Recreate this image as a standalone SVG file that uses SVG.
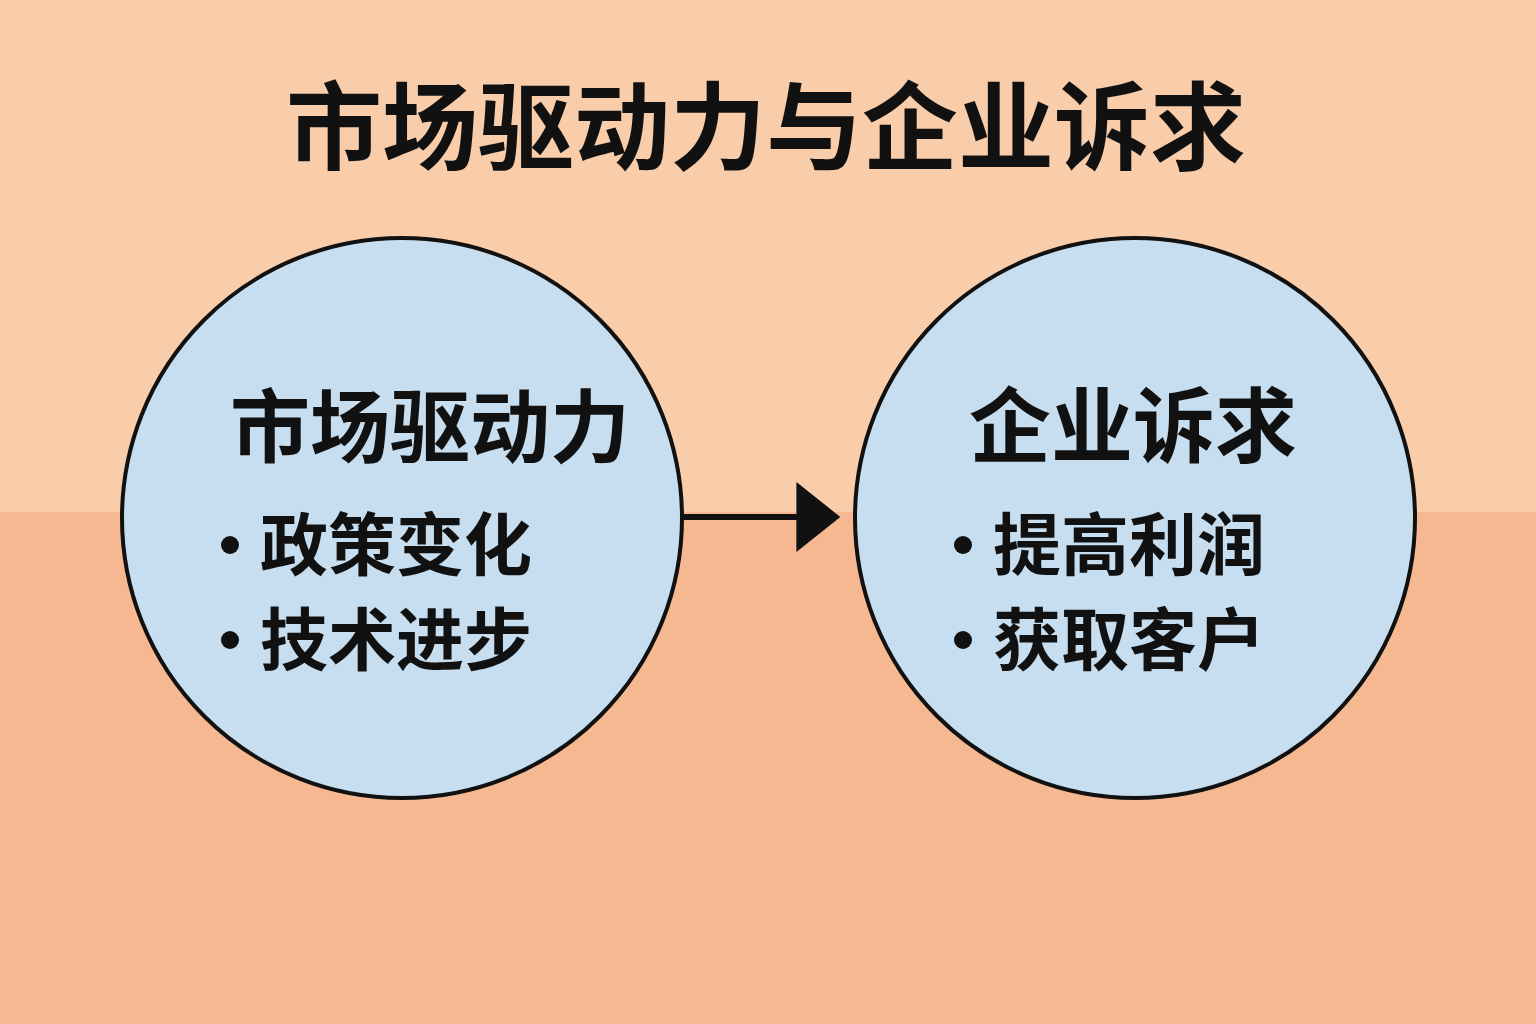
<svg xmlns="http://www.w3.org/2000/svg" width="1536" height="1024" viewBox="0 0 1536 1024">
<defs>
<style>
.t{font-family:"Noto Sans CJK SC","Noto Sans",sans-serif;font-weight:bold;fill:#111}
.c{fill:#C6DEEF;stroke:#111;stroke-width:4}
</style>
<marker id="ah" viewBox="0 0 10 10" refX="9" refY="5" markerWidth="44" markerHeight="70" markerUnits="userSpaceOnUse" orient="auto" preserveAspectRatio="none"><path d="M0,0L10,5L0,10z" fill="#111"/></marker>
</defs>
<rect width="1536" height="512" fill="#F9CDA9"/>
<rect y="512" width="1536" height="512" fill="#F5B890"/>
<text class="t" x="766" y="162" font-size="96" text-anchor="middle">市场驱动力与企业诉求</text>
<g id="connectors"><line x1="682" y1="517" x2="836" y2="517" stroke="#111" stroke-width="6" marker-end="url(#ah)"/></g>
<g id="left">
<circle class="c" cx="402" cy="518" r="280"/>
<text class="t" x="430" y="456" font-size="80" text-anchor="middle">市场驱动力</text>
<circle cx="230" cy="545" r="9" fill="#111"/>
<text class="t" x="260" y="570" font-size="68">政策变化</text>
<circle cx="230" cy="640" r="9" fill="#111"/>
<text class="t" x="260" y="665" font-size="68">技术进步</text>
</g>
<g id="right">
<circle class="c" cx="1135" cy="518" r="280"/>
<text class="t" x="1133" y="456" font-size="82" text-anchor="middle">企业诉求</text>
<circle cx="963" cy="545" r="9" fill="#111"/>
<text class="t" x="993" y="570" font-size="68">提高利润</text>
<circle cx="963" cy="640" r="9" fill="#111"/>
<text class="t" x="993" y="665" font-size="68">获取客户</text>
</g>
</svg>
